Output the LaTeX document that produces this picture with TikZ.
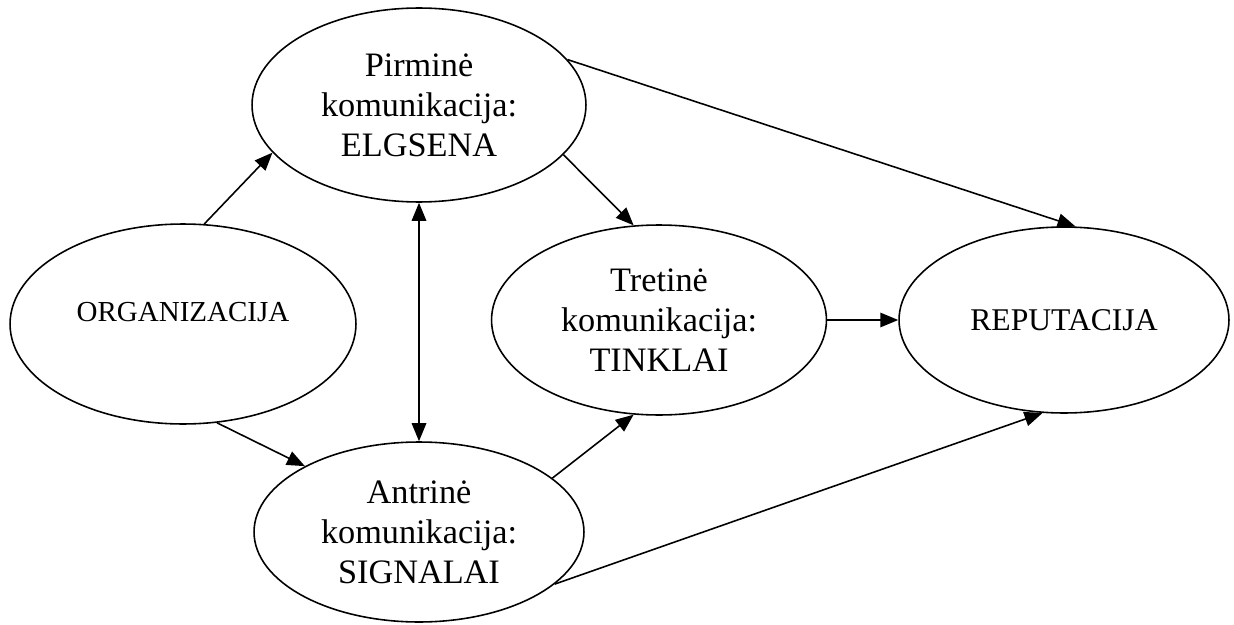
\documentclass[tikz,border=0pt]{standalone}
\usepackage{fontspec}
\setmainfont{Liberation Serif}
\usetikzlibrary{shapes.geometric,arrows.meta}
\begin{document}
\begin{tikzpicture}[x=0.02cm,y=-0.02cm,line width=0.9pt,
    ell/.style={draw,ellipse,inner sep=0pt,align=center,font=\fontsize{19.5}{22.8}\selectfont},
    >={Triangle[length=0.36cm,width=0.29cm]}]
            \useasboundingbox (0,0) rectangle (1234,625);
            \node[ell,minimum width=6.92cm,minimum height=4cm,font=\fontsize{16.5}{20}\selectfont,text depth=0.48cm] (org) at (183,324) {ORGANIZACIJA};
            \node[ell,minimum width=6.68cm,minimum height=3.88cm] (pirm) at (419,105) {Pirminė\\komunikacija:\\ELGSENA};
            \node[ell,minimum width=6.6cm,minimum height=3.6cm] (antr) at (419,532) {Antrinė\\komunikacija:\\SIGNALAI};
            \node[ell,minimum width=6.7cm,minimum height=3.8cm] (tret) at (659,320) {Tretinė\\komunikacija:\\TINKLAI};
            \node[ell,minimum width=6.6cm,minimum height=3.72cm,font=\fontsize{18}{21}\selectfont] (rep) at (1064,320) {REPUTACIJA};

            \draw[->] (org.78.6) to (pirm.198); \draw[->] (org.289) to (antr.150);
            \draw[<->] (pirm) to (antr);
            \draw[->] (pirm.341.6) to (tret.105); \draw[->] (pirm.17.6) to (rep.83.2);
            \draw[->] (antr.22.2) to (tret.255); \draw[->] (antr.339.4) to (rep.257.7);
            \draw[->] (tret) to (rep);
        \end{tikzpicture}
\end{document}
